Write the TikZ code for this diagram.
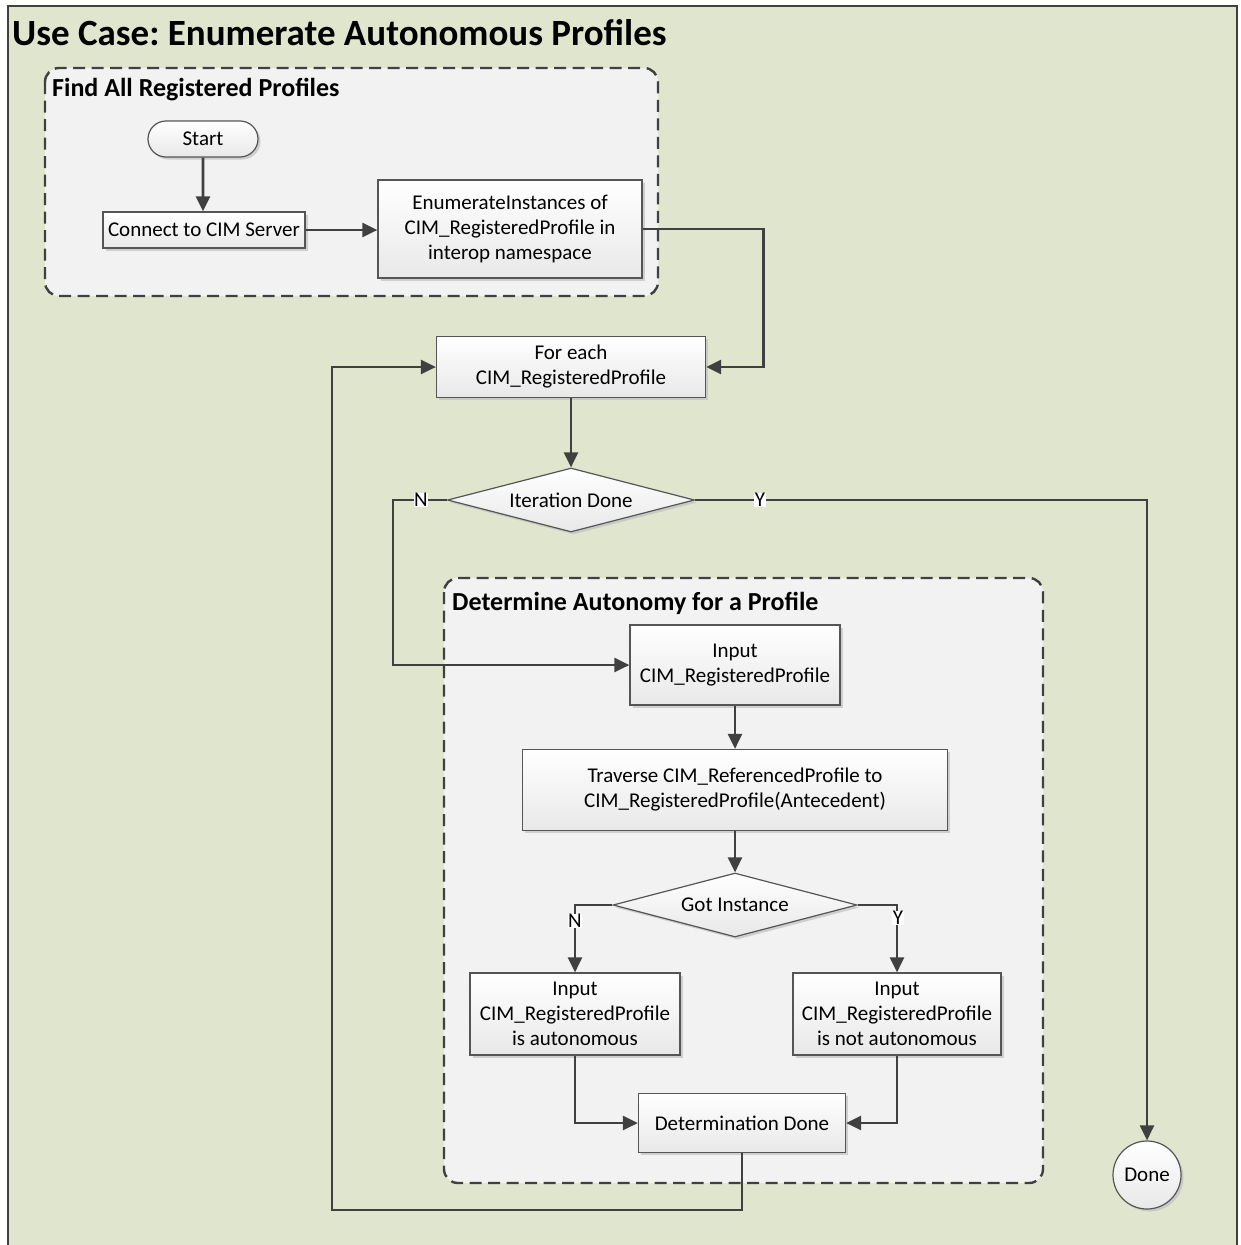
\documentclass[tikz,border=0pt]{standalone}
\usepackage{fontspec}
\setmainfont{Carlito}
\usetikzlibrary{arrows.meta,shapes.geometric,shapes.misc,shadows}
\definecolor{bgc}{RGB}{224,229,206}
\definecolor{grpc}{RGB}{242,242,242}
\definecolor{linec}{RGB}{64,64,64}
\definecolor{edgec}{RGB}{85,85,85}
\frenchspacing
\begin{document}
\begin{tikzpicture}[x=1pt,y=-1pt,
  txt/.style={font=\fontsize{21}{25}\selectfont},
  box/.style={txt, draw=edgec, line width=1.2pt, top color=white, bottom color=black!9,
    drop shadow={shadow xshift=2.5pt,shadow yshift=-2.5pt,fill=black!25,opacity=.7},
    align=center, inner sep=2pt},
  rbox/.style={box, rectangle},
  dbox/.style={box, diamond, inner sep=0pt},
  grp/.style={draw=linec, line width=2.4pt, dash pattern=on 12pt off 6.5pt, rounded corners=14pt, fill=grpc},
  grptitle/.style={font=\fontsize{26}{30}\selectfont\bfseries, anchor=base west, inner sep=0pt},
  arr/.style={draw=linec, line width=2.6pt, -{Triangle[length=15pt,width=14pt]}},
  lbl/.style={txt, fill=white, inner sep=0.5pt}
]
\useasboundingbox (0,0) rectangle (1241,1245);
% outer frame
\draw[draw=linec, line width=2pt, fill=bgc] (8,6) rectangle (1237,1250);
\node[font=\fontsize{37}{42}\selectfont\bfseries, anchor=base west, inner sep=0pt] (title) at (12,45) {Use Case: Enumerate Autonomous Profiles};

% groups
\draw[grp] (45,68) rectangle (658,296);
\node[grptitle] (g1t) at (52,96) {Find All Registered Profiles};
\draw[grp] (444,578) rectangle (1043,1183);
\node[grptitle] (g2t) at (452,610) {Determine Autonomy for a Profile};

% nodes
\node[box, rounded rectangle, minimum width=114pt, minimum height=36pt] (start) at (203,139) {Start};
\node[rbox, minimum width=202pt, minimum height=36pt] (connect) at (204,230) {Connect to CIM Server};
\node[rbox, minimum width=264pt, minimum height=98pt] (enum) at (510,229) {EnumerateInstances of\\CIM\_RegisteredProfile in\\interop namespace};
\node[rbox, minimum width=269pt, minimum height=61pt] (foreach) at (571,367) {For each\\CIM\_RegisteredProfile};
\node[dbox, aspect=3.86, minimum width=247pt, minimum height=64pt] (iter) at (571,500) {Iteration Done};
\node[rbox, minimum width=210pt, minimum height=80pt] (input) at (735,665) {Input\\CIM\_RegisteredProfile};
\node[rbox, minimum width=425pt, minimum height=81pt] (trav) at (735,790) {Traverse CIM\_ReferencedProfile to\\CIM\_RegisteredProfile(Antecedent)};
\node[dbox, aspect=3.81, minimum width=244pt, minimum height=64pt] (got) at (735,905) {Got Instance};
\node[rbox, minimum width=210pt, minimum height=82pt] (auto) at (575,1014) {Input\\CIM\_RegisteredProfile\\is autonomous};
\node[rbox, minimum width=208pt, minimum height=82pt] (notauto) at (897,1014) {Input\\CIM\_RegisteredProfile\\is not autonomous};
\node[rbox, minimum width=207pt, minimum height=59pt] (det) at (742,1123) {Determination Done};
\node[box, circle, minimum size=68pt, inner sep=0pt] (done) at (1147,1175) {Done};

% helper coordinates
\coordinate (nturn) at (393,500);
\coordinate (loopc) at (332,1210);

% connectors
\draw[arr] (start) -- (start |- connect.north);
\draw[arr] (connect.east) -- (connect.east -| enum.west);
\draw[arr] (enum.east) -- ++(121,0) |- (foreach.east);
\draw[arr] (foreach) -- (iter);
\draw[arr] (iter.west) -- (nturn) |- (input.west);
\draw[arr] (iter.east) -| (done.north);
\draw[arr] (input) -- (trav);
\draw[arr] (trav) -- (got);
\draw[arr] (got.west) -| (auto.north);
\draw[arr] (got.east) -| (notauto.north);
\draw[arr] (auto.south) |- (det.west);
\draw[arr] (notauto.south) |- (det.east);
\draw[arr] (det.south) |- (loopc) |- (foreach.west);

% labels
\node[lbl] (ln1) at (421,500) {N};
\node[lbl] (ly1) at (760,500) {Y};
\node[lbl] (ln2) at (575,921) {N};
\node[lbl] (ly2) at (898,918) {Y};
\end{tikzpicture}
\end{document}
